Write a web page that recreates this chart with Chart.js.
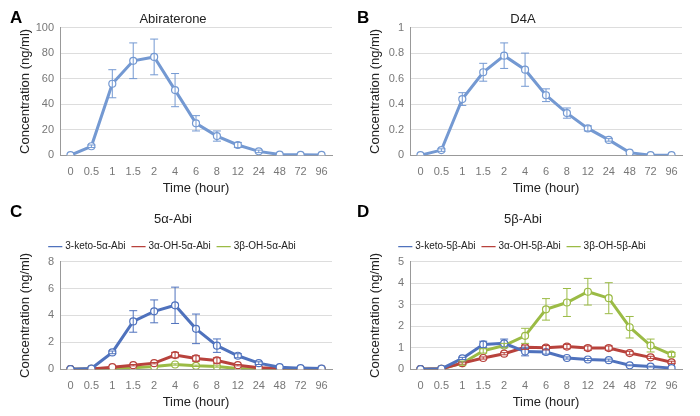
<!DOCTYPE html>
<html>
<head>
<script src="https://cdn.jsdelivr.net/npm/chart.js@4/dist/chart.umd.min.js"></script>
<style>
body{margin:0;background:#fff;font-family:Arial,"Liberation Sans",sans-serif;}
.p{position:absolute;width:350px;height:208px;}
.lt{position:absolute;font-weight:bold;font-size:17px;}
</style>
</head>
<body>
<div class="p" style="left:0;top:0"><canvas id="a" width="350" height="200"></canvas></div>
<div class="p" style="left:350px;top:0"><canvas id="b" width="350" height="200"></canvas></div>
<div class="p" style="left:0;top:200px"><canvas id="c" width="350" height="214"></canvas></div>
<div class="p" style="left:350px;top:200px"><canvas id="d" width="350" height="214"></canvas></div>
<div class="lt" style="left:10px;top:8px">A</div>
<div class="lt" style="left:357px;top:8px">B</div>
<div class="lt" style="left:10px;top:202px">C</div>
<div class="lt" style="left:357px;top:202px">D</div>
<script>
const times=['0','0.5','1','1.5','2','4','6','8','12','24','48','72','96'];

const abi=[0,7,56,74,77,51,25,15,8,3,0.5,0.3,0.2];
const abiErr=[0,1,11,14,14,13,6,4,2,1,0,0,0];
const d4a=[0,0.04,0.44,0.65,0.78,0.67,0.47,0.33,0.21,0.12,0.02,0,0];
const d4aErr=[0,0.01,0.05,0.07,0.1,0.13,0.05,0.04,0.02,0.01,0,0,0];

const ketoA=[0,0.05,1.25,3.55,4.3,4.75,3.0,1.75,1.0,0.45,0.15,0.08,0.05];
const ketoAErr=[0,0,0.1,0.8,0.85,1.35,1.1,0.5,0.15,0.1,0,0,0];
const aOHA=[0,0.02,0.15,0.3,0.45,1.05,0.8,0.65,0.3,0.1,0.05,0.03,0.02];
const aOHAErr=[0,0,0,0.05,0.05,0.2,0.2,0.2,0.05,0,0,0,0];
const bOHA=[0,0.02,0.05,0.1,0.2,0.35,0.25,0.2,0.05,0.02,0.01,0,0];
const bOHAErr=[0,0,0,0,0,0.05,0.05,0.05,0,0,0,0,0];

const ketoB=[0,0.02,0.5,1.15,1.2,0.82,0.8,0.52,0.45,0.42,0.18,0.12,0.05];
const ketoBErr=[0,0,0.05,0.15,0.2,0.2,0.1,0.05,0.05,0.05,0.02,0.02,0];
const aOHB=[0,0.02,0.28,0.52,0.72,1.02,1.0,1.05,0.98,0.98,0.75,0.55,0.32];
const aOHBErr=[0,0,0.05,0.05,0.05,0.1,0.1,0.1,0.1,0.1,0.08,0.05,0.05];
const bOHB=[0,0.02,0.28,0.85,1.1,1.55,2.78,3.1,3.6,3.3,1.95,1.1,0.68];
const bOHBErr=[0,0,0.1,0.1,0.1,0.35,0.5,0.65,0.62,0.72,0.5,0.3,0.1];

const BLUE='#4f72bd',LBLUE='#7499d2',RED='#b8423c',GREEN='#9bbb45';

const errPlugin={
  id:'err',
  afterDatasetsDraw(chart){
    const ctx=chart.ctx,ys=chart.scales.y;
    chart.data.datasets.forEach((ds,i)=>{
      if(!ds.err)return;
      const meta=chart.getDatasetMeta(i);
      ctx.save();ctx.strokeStyle=ds.borderColor;ctx.lineWidth=1;
      meta.data.forEach((pt,j)=>{
        const e=ds.err[j];if(!e)return;
        const y1=ys.getPixelForValue(ds.data[j]+e),y2=ys.getPixelForValue(ds.data[j]-e);
        ctx.beginPath();
        ctx.moveTo(pt.x,y1);ctx.lineTo(pt.x,y2);
        ctx.moveTo(pt.x-4,y1);ctx.lineTo(pt.x+4,y1);
        ctx.moveTo(pt.x-4,y2);ctx.lineTo(pt.x+4,y2);
        ctx.stroke();
      });
      ctx.restore();
    });
  }
};

function ds(label,data,err,color){
  return {label,data,err,borderColor:color,backgroundColor:color,borderWidth:3,
    pointRadius:3.5,pointBorderWidth:1.2,pointBackgroundColor:'#fff',pointBorderColor:color,tension:0};
}

function make(id,title,datasets,max,step,legend){
  new Chart(document.getElementById(id),{
    type:'line',
    data:{labels:times,datasets},
    plugins:[errPlugin],
    options:{
      responsive:false,animation:false,
      layout:{padding:{left:14,right:18,top:0,bottom:0}},
      plugins:{
        title:{display:true,text:title,color:'#222',font:{size:13,family:'Arial',weight:'normal'},padding:{top:12,bottom:legend?6:0}},
        legend:{display:legend,labels:{usePointStyle:true,pointStyle:'line',boxWidth:30,color:'#222',font:{size:10,family:'Arial'},padding:8}},
        tooltip:{enabled:false}
      },
      scales:{
        x:{offset:true,grid:{display:false},border:{color:'#999'},
          ticks:{color:'#777',font:{size:11,family:'Arial'},maxRotation:0,autoSkip:false,padding:2},
          title:{display:true,text:'Time (hour)',color:'#222',font:{size:13,family:'Arial'},padding:{top:0}}},
        y:{min:0,max:max,grid:{color:'#ddd',drawTicks:false},border:{color:'#999',display:true},
          afterFit(s){s.width=46;},
          ticks:{stepSize:step,color:'#777',font:{size:11,family:'Arial'},padding:6,callback:v=>String(+v.toFixed(2))},
          title:{display:true,text:'Concentration (ng/ml)',color:'#222',font:{size:13,family:'Arial'},padding:{bottom:2}}}
      }
    }
  });
}

make('a','Abiraterone',[ds('Abiraterone',abi,abiErr,LBLUE)],100,20,false);
make('b','D4A',[ds('D4A',d4a,d4aErr,LBLUE)],1,0.2,false);
make('c','5\u03b1-Abi',[ds('3-keto-5\u03b1-Abi',ketoA,ketoAErr,BLUE),ds('3\u03b1-OH-5\u03b1-Abi',aOHA,aOHAErr,RED),ds('3\u03b2-OH-5\u03b1-Abi',bOHA,bOHAErr,GREEN)],8,2,true);
make('d','5\u03b2-Abi',[ds('3-keto-5\u03b2-Abi',ketoB,ketoBErr,BLUE),ds('3\u03b1-OH-5\u03b2-Abi',aOHB,aOHBErr,RED),ds('3\u03b2-OH-5\u03b2-Abi',bOHB,bOHBErr,GREEN)],5,1,true);
</script>
</body>
</html>
